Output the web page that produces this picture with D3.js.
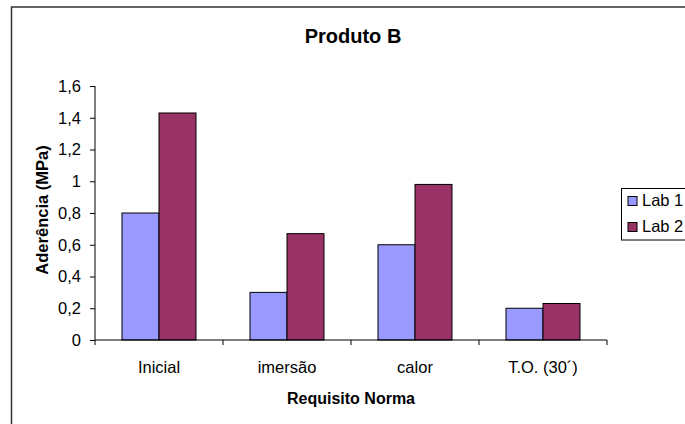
<!DOCTYPE html>
<html><head><meta charset="utf-8">
<script src="https://cdn.jsdelivr.net/npm/d3@7"></script>
<style>body{margin:0;background:#fff;overflow:hidden}svg{display:block}text{font-family:"Liberation Sans",Arial,sans-serif}</style>
</head><body>
<script>
const categories = ["Inicial", "imersão", "calor", "T.O. (30´)"];
const seriesNames = ["Lab 1", "Lab 2"];
const lab1 = [0.8, 0.3, 0.6, 0.2];
const lab2 = [1.43, 0.67, 0.98, 0.23];
const yTicks = [0, 0.2, 0.4, 0.6, 0.8, 1, 1.2, 1.4, 1.6];
const colors = ["#9999FF", "#993366"];

(function () {
const W = 685, H = 424;
const svg = d3.select("body").append("svg").attr("width", W).attr("height", H);
svg.append("rect").attr("x", 11.5).attr("y", 7).attr("width", 700).attr("height", 430)
  .attr("fill", "#fff").attr("stroke", "#333").attr("stroke-width", 1.5);

const pL = 95, pR = 607, pT = 86, pB = 340;
const x = d3.scaleBand().domain(categories).range([pL, pR]);
const xs = d3.scaleBand().domain(seriesNames).range([0, x.bandwidth()]).paddingInner(0).paddingOuter(0.73);
const y = d3.scaleLinear().domain([0, 1.6]).range([pB, pT]);

svg.append("text").attr("x", 353).attr("y", 42.5).attr("text-anchor", "middle")
  .attr("font-size", 20).attr("font-weight", "bold").text("Produto B");

// bars
const data = categories.map((c, i) => ({c, vals: [lab1[i], lab2[i]]}));
const g = svg.append("g");
data.forEach(d => {
  d.vals.forEach((v, j) => {
    g.append("rect")
      .attr("x", x(d.c) + xs(seriesNames[j]))
      .attr("y", y(v))
      .attr("width", xs.bandwidth())
      .attr("height", y(0) - y(v))
      .attr("fill", colors[j]).attr("stroke", "#000").attr("stroke-width", 1);
  });
});

// y axis
const yAxis = d3.axisLeft(y).tickValues(yTicks).tickSize(5).tickPadding(9)
  .tickFormat(d => d3.format("")(d).replace(".", ","));
const ya = svg.append("g").attr("transform", `translate(${pL},0)`).call(yAxis);
ya.attr("font-family", null).attr("font-size", null);
ya.selectAll("text").attr("font-size", 16.5).attr("fill", "#000");
ya.selectAll("line,path").attr("stroke", "#000");
ya.select(".domain").attr("d", `M0,${pT}V${pB}`);

// x axis
const xa = svg.append("g").attr("transform", `translate(0,${pB})`);
xa.append("line").attr("x1", pL).attr("x2", pR).attr("stroke", "#000");
const bounds = categories.map(c => x(c)).concat([pR]);
bounds.forEach(b => xa.append("line").attr("x1", b).attr("x2", b).attr("y1", 0).attr("y2", 5).attr("stroke", "#000"));
categories.forEach(c => {
  xa.append("text").attr("x", x(c) + x.bandwidth() / 2).attr("y", 33)
    .attr("text-anchor", "middle").attr("font-size", 16.5).text(c);
});

svg.append("text").attr("x", pL + (pR - pL) / 2).attr("y", 404)
  .attr("text-anchor", "middle").attr("font-size", 16).attr("font-weight", "bold").text("Requisito Norma");
svg.append("text").attr("transform", `translate(48,210) rotate(-90)`)
  .attr("text-anchor", "middle").attr("font-size", 16.5).attr("font-weight", "bold").text("Aderência (MPa)");

// legend
const lg = svg.append("g");
lg.append("rect").attr("x", 621.5).attr("y", 188.5).attr("width", 80).attr("height", 51.5)
  .attr("fill", "#fff").attr("stroke", "#000");
seriesNames.forEach((s, i) => {
  lg.append("rect").attr("x", 628).attr("y", 196.5 + i * 26).attr("width", 9).attr("height", 9)
    .attr("fill", colors[i]).attr("stroke", "#000");
  lg.append("text").attr("x", 642).attr("y", 205.5 + i * 26).attr("font-size", 16.5).text(s);
});
})();
</script>
</body></html>
